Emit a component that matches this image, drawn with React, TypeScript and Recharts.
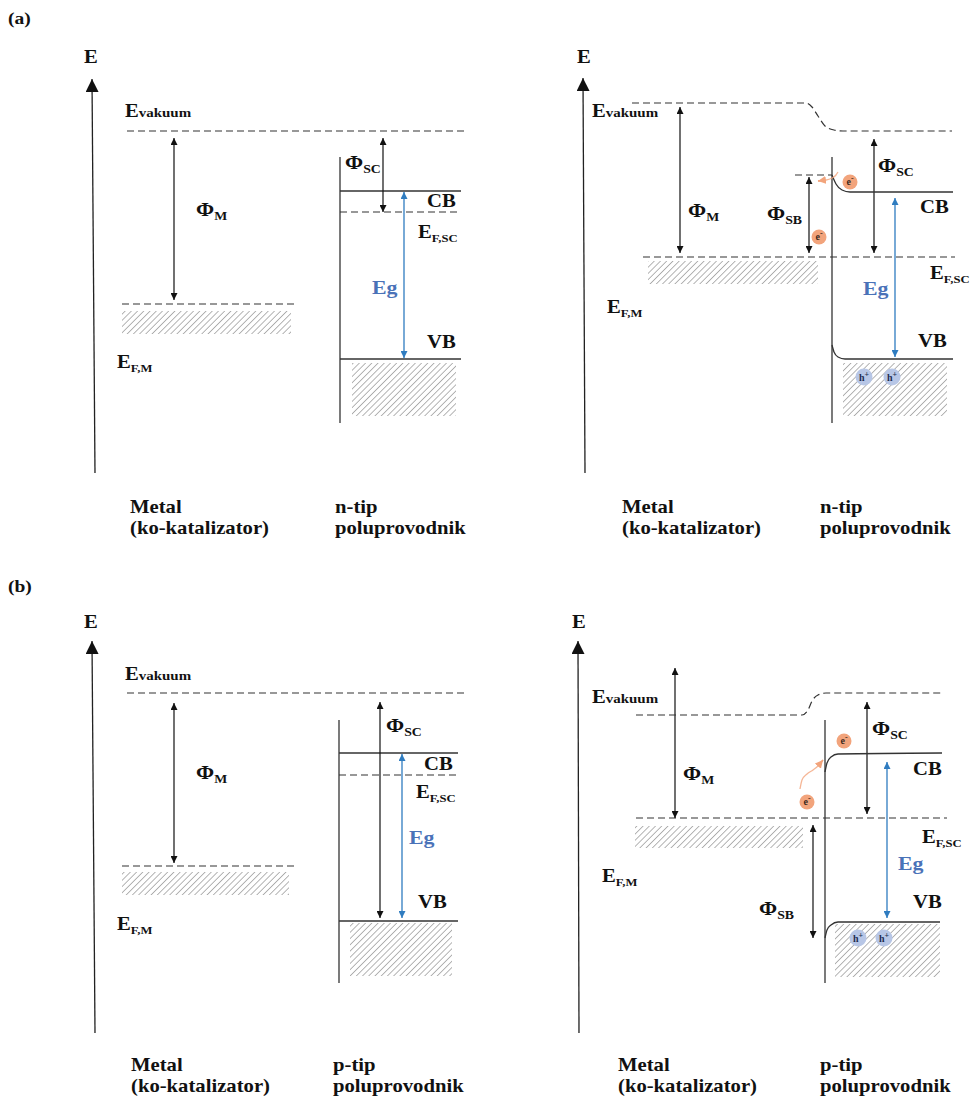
import React from "react";
import {
  ComposedChart,
  XAxis,
  YAxis,
  Line,
  ReferenceLine,
  ReferenceArea,
  ReferenceDot,
} from "recharts";

// diagram space (same extent as the figure)
const W = 972;
const H = 1101;

type Seg = [number, number, number, number];
type Box = [number, number, number, number];
type P = [number, number];

// ---- energy axes (bottom -> top) ----
const energyAxes: Seg[] = [
  [95, 473, 92, 79],
  [585, 473, 583, 78],
  [95, 1033, 92, 641],
  [579, 1033, 578, 641],
];

// ---- solid band edges / interfaces ----
const solidLevels: Seg[] = [
  [340, 157, 340, 423],
  [340, 191, 461, 191],
  [340, 359, 461, 359],
  [832, 157, 832, 423],
  [339, 720, 339, 983],
  [339, 753, 458, 753],
  [339, 921, 458, 921],
  [825, 720, 825, 983],
];

// ---- dashed levels (vacuum, Fermi levels) ----
const dashedLevels: Seg[] = [
  [127, 131, 468, 131],
  [122, 304, 296, 304],
  [340, 212, 461, 212],
  [643, 257, 955, 257],
  [795, 175, 832, 175],
  [127, 693, 465, 693],
  [122, 866, 295, 866],
  [339, 775, 458, 775],
  [636, 818, 947, 818],
];

// ---- bent levels after contact ----
const vacuumBent: P[][] = [
  [[632, 103], [806, 103], [812, 107], [818, 116], [825, 126], [834, 130], [843, 131], [952, 131]],
  [[636, 715], [802, 715], [808, 710], [812, 701], [818, 695], [826, 693], [943, 693]],
];
const bandBent: P[][] = [
  [[832, 175], [836, 184], [842, 190], [850, 192], [953, 192]],
  [[832, 345], [834, 352], [838, 357], [845, 359], [953, 359]],
  [[825, 772], [827, 763], [831, 757], [838, 754], [942, 753]],
  [[825, 938], [827, 930], [831, 925], [838, 922], [940, 922]],
];

// ---- double arrows (work functions, barriers) ----
const blackArrows: Seg[] = [
  [174, 138, 174, 300],
  [383, 138, 383, 212],
  [680, 107, 680, 253],
  [809, 177, 809, 253],
  [874, 139, 874, 253],
  [174, 703, 174, 863],
  [380, 702, 380, 918],
  [675, 668, 675, 818],
  [867, 702, 867, 814],
  [813, 825, 813, 938],
];
const gapArrows: Seg[] = [
  [404, 192, 404, 358],
  [895, 198, 895, 357],
  [402, 754, 402, 918],
  [887, 762, 887, 918],
];

// ---- filled states (x1, x2, y1, y2) ----
const filledStates: Box[] = [
  [122, 291, 311, 334],
  [352, 456, 363, 416],
  [648, 818, 261, 284],
  [843, 947, 363, 416],
  [122, 289, 872, 895],
  [350, 452, 923, 976],
  [635, 803, 826, 848],
  [835, 940, 924, 977],
];

// ---- carriers ----
const electrons: P[] = [[850, 182], [819, 237], [844, 741], [807, 802]];
const holes: P[] = [[864, 377], [892, 377], [858, 938], [884, 938]];

// ---- electron transfer paths ----
const transferPaths: P[][] = [
  [[818, 181], [826, 180], [832, 178], [836, 175], [838, 172]],
  [[800, 789], [802, 780], [807, 774], [813, 770], [818, 766], [823, 760]],
];
const transferTips: Seg[] = [
  [825, 180, 818, 181],
  [818, 766, 823, 760],
];

// ---- text ----
const panelTags: [number, number, string][] = [[8, 24, "(a)"], [8, 592, "(b)"]];
const axisTitles: P[] = [[84, 63], [577, 63], [84, 628], [572, 628]];
const vacuumTitles: P[] = [[125, 117], [592, 117], [125, 680], [592, 703]];
const phiLabels: [number, number, string][] = [
  [196, 216, "M"], [345, 169, "SC"],
  [688, 217, "M"], [767, 220, "SB"], [878, 172, "SC"],
  [196, 779, "M"], [386, 732, "SC"],
  [683, 780, "M"], [872, 735, "SC"], [759, 915, "SB"],
];
const bandLabels: [number, number, string][] = [
  [427, 207, "CB"], [427, 348, "VB"],
  [920, 213, "CB"], [918, 347, "VB"],
  [424, 770, "CB"], [418, 908, "VB"],
  [913, 775, "CB"], [913, 908, "VB"],
];
const fermiLabels: [number, number, string][] = [
  [418, 238, "F,SC"], [117, 368, "F,M"],
  [930, 279, "F,SC"], [607, 313, "F,M"],
  [416, 798, "F,SC"], [117, 930, "F,M"],
  [922, 843, "F,SC"], [602, 882, "F,M"],
];
const gapLabels: P[] = [[372, 294], [863, 295], [409, 844], [898, 870]];
const captions: [number, number, string, string][] = [
  [130, 513, "Metal", "(ko-katalizator)"],
  [335, 513, "n-tip", "poluprovodnik"],
  [622, 513, "Metal", "(ko-katalizator)"],
  [820, 513, "n-tip", "poluprovodnik"],
  [131, 1071, "Metal", "(ko-katalizator)"],
  [333, 1071, "p-tip", "poluprovodnik"],
  [618, 1071, "Metal", "(ko-katalizator)"],
  [820, 1071, "p-tip", "poluprovodnik"],
];

const SERIF = "'Liberation Serif', 'Times New Roman', serif";
const SX = 1.15;
const INK = "#111";
const DASH = "#333";
const BLUE_LINE = "#2f7cc0";
const BLUE_TEXT = "#4a72b8";
const ORANGE = "#f2a47c";

const pts = (a: P[]) => a.map(([x, y]) => ({ x, y }));
const seg = (s: Seg) => [{ x: s[0], y: s[1] }, { x: s[2], y: s[3] }];

function Txt({ cx, cy, main, sub, size = 18, subSize = 12, subDy = 4, fill = INK }: any) {
  return (
    <text
      transform={`translate(${cx},${cy}) scale(${SX},1)`}
      fontFamily={SERIF}
      fontWeight="bold"
      fontSize={size}
      fill={fill}
    >
      {main}
      {sub ? (
        <tspan fontSize={subSize} dy={subDy}>
          {sub}
        </tspan>
      ) : null}
    </text>
  );
}

function textAt(key: string, x: number, y: number, props: any) {
  return (
    <ReferenceDot
      key={key}
      x={x}
      y={y}
      r={0}
      ifOverflow="visible"
      shape={(p: any) => <Txt cx={p.cx} cy={p.cy} {...props} />}
    />
  );
}

function arrowHead(id: string, color: string, size: number) {
  return (
    <marker
      id={id}
      viewBox="0 0 10 10"
      refX="10"
      refY="5"
      markerWidth={size}
      markerHeight={size}
      markerUnits="userSpaceOnUse"
      orient="auto-start-reverse"
    >
      <path d="M0,0 L10,5 L0,10 z" fill={color} />
    </marker>
  );
}

function segLine(key: string, s: Seg, style: any) {
  return (
    <ReferenceLine
      key={key}
      segment={seg(s)}
      ifOverflow="visible"
      shape={(p: any) => (
        <line x1={p.x1} y1={p.y1} x2={p.x2} y2={p.y2} fill="none" {...style} />
      )}
    />
  );
}

export default function App() {
  return (
    <div style={{ position: "absolute", left: 0, top: 0, background: "#fff" }}>
      <ComposedChart width={W} height={H} margin={{ top: 0, right: 0, bottom: 0, left: 0 }}>
        <defs>
          <pattern
            id="hatch"
            width="4.4"
            height="4.4"
            patternUnits="userSpaceOnUse"
            patternTransform="rotate(45)"
          >
            <line x1="0" y1="0" x2="0" y2="4.4" stroke="#9c9c9c" strokeWidth="1.5" />
          </pattern>
          {arrowHead("arrK", INK, 7)}
          {arrowHead("arrB", BLUE_LINE, 7)}
          {arrowHead("arrAxis", INK, 13)}
          {arrowHead("arrO", ORANGE, 8)}
        </defs>
        <XAxis type="number" dataKey="x" domain={[0, W]} hide allowDataOverflow />
        <YAxis type="number" dataKey="y" domain={[0, H]} reversed hide allowDataOverflow />

        {filledStates.map((b, i) => (
          <ReferenceArea
            key={`fs${i}`}
            x1={b[0]}
            x2={b[1]}
            y1={b[2]}
            y2={b[3]}
            fill="url(#hatch)"
            fillOpacity={1}
            stroke="none"
            ifOverflow="visible"
          />
        ))}

        {energyAxes.map((s, i) =>
          segLine(`ax${i}`, s, { stroke: "#222", strokeWidth: 1.3, markerEnd: "url(#arrAxis)" })
        )}
        {solidLevels.map((s, i) => segLine(`sl${i}`, s, { stroke: "#333", strokeWidth: 1.3 }))}
        {dashedLevels.map((s, i) =>
          segLine(`dl${i}`, s, { stroke: DASH, strokeWidth: 1.2, strokeDasharray: "7 4" })
        )}
        {blackArrows.map((s, i) =>
          segLine(`ba${i}`, s, {
            stroke: INK,
            strokeWidth: 1.2,
            markerStart: "url(#arrK)",
            markerEnd: "url(#arrK)",
          })
        )}
        {gapArrows.map((s, i) =>
          segLine(`ga${i}`, s, {
            stroke: BLUE_LINE,
            strokeWidth: 1.3,
            markerStart: "url(#arrB)",
            markerEnd: "url(#arrB)",
          })
        )}

        {vacuumBent.map((a, i) => (
          <Line
            key={`vb${i}`}
            data={pts(a)}
            dataKey="y"
            type="monotone"
            stroke={DASH}
            strokeWidth={1.2}
            strokeDasharray="7 4"
            dot={false}
            activeDot={false}
            isAnimationActive={false}
          />
        ))}
        {bandBent.map((a, i) => (
          <Line
            key={`bb${i}`}
            data={pts(a)}
            dataKey="y"
            type="monotone"
            stroke="#333"
            strokeWidth={1.3}
            dot={false}
            activeDot={false}
            isAnimationActive={false}
          />
        ))}
        {transferPaths.map((a, i) => (
          <Line
            key={`tp${i}`}
            data={pts(a)}
            dataKey="y"
            type="monotone"
            stroke={ORANGE}
            strokeOpacity={0.8}
            strokeWidth={1.3}
            dot={false}
            activeDot={false}
            isAnimationActive={false}
          />
        ))}
        {transferTips.map((s, i) =>
          segLine(`tt${i}`, s, { stroke: ORANGE, strokeWidth: 1.3, markerEnd: "url(#arrO)" })
        )}

        {electrons.map(([x, y], i) => (
          <ReferenceDot
            key={`el${i}`}
            x={x}
            y={y}
            r={7.5}
            ifOverflow="visible"
            shape={(p: any) => (
              <g>
                <circle cx={p.cx} cy={p.cy} r={7.5} fill={ORANGE} />
                <text
                  x={p.cx - 3.5}
                  y={p.cy + 3}
                  fontFamily={SERIF}
                  fontWeight="bold"
                  fontSize={10}
                  fill="#3b2a20"
                >
                  e<tspan fontSize={8} dy={-4}>-</tspan>
                </text>
              </g>
            )}
          />
        ))}
        {holes.map(([x, y], i) => (
          <ReferenceDot
            key={`ho${i}`}
            x={x}
            y={y}
            r={8.5}
            ifOverflow="visible"
            shape={(p: any) => (
              <g>
                <circle cx={p.cx} cy={p.cy} r={8.5} fill="#b7c6e6" />
                <text
                  x={p.cx - 5}
                  y={p.cy + 3.5}
                  fontFamily={SERIF}
                  fontWeight="bold"
                  fontSize={10}
                  fill="#1f2d50"
                >
                  h<tspan fontSize={8} dy={-4}>+</tspan>
                </text>
              </g>
            )}
          />
        ))}

        {panelTags.map(([x, y, t], i) => textAt(`pt${i}`, x, y, { main: t, size: 17 }))}
        {axisTitles.map(([x, y], i) => textAt(`at${i}`, x, y, { main: "E", size: 18 }))}
        {vacuumTitles.map(([x, y], i) =>
          textAt(`vt${i}`, x, y, { main: "E", sub: "vakuum", size: 18, subSize: 13, subDy: 0 })
        )}
        {phiLabels.map(([x, y, s], i) =>
          textAt(`ph${i}`, x, y, { main: "Φ", sub: s, size: 19, subSize: 12, subDy: 4 })
        )}
        {bandLabels.map(([x, y, t], i) => textAt(`bl${i}`, x, y, { main: t, size: 18 }))}
        {fermiLabels.map(([x, y, s], i) =>
          textAt(`fl${i}`, x, y, { main: "E", sub: s, size: 18, subSize: 11, subDy: 4 })
        )}
        {gapLabels.map(([x, y], i) =>
          textAt(`gl${i}`, x, y, { main: "Eg", size: 19, fill: BLUE_TEXT })
        )}
        {captions.map(([x, y, a, b], i) => [
          textAt(`ca${i}`, x, y, { main: a, size: 18 }),
          textAt(`cb${i}`, x, y + 21, { main: b, size: 18 }),
        ])}
      </ComposedChart>
    </div>
  );
}
